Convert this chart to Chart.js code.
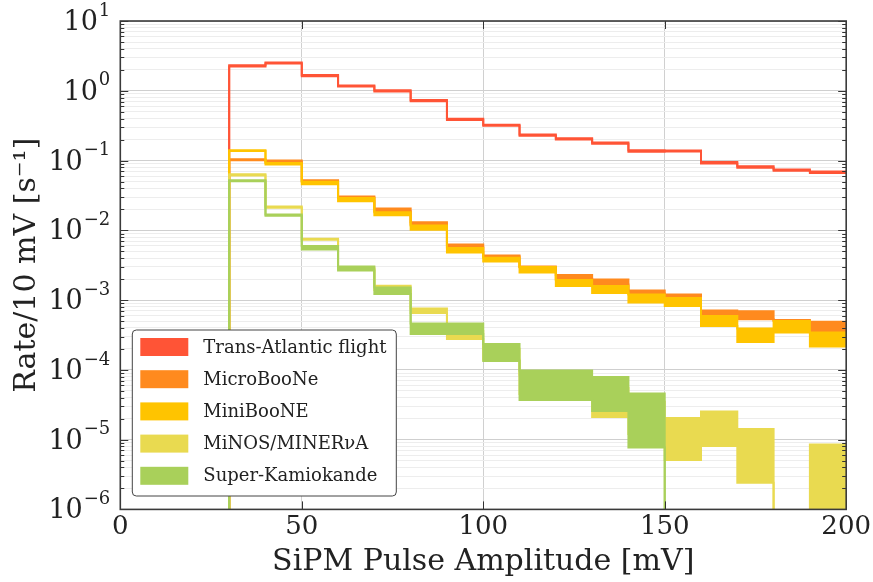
<!DOCTYPE html>
<html>
<head>
<meta charset="utf-8">
<script src="https://cdn.jsdelivr.net/npm/chart.js@4.4.1/dist/chart.umd.min.js"></script>
<style>
  html, body { margin: 0; padding: 0; background: #fff; }
  #wrap { width: 873px; height: 582px; position: relative; }
</style>
</head>
<body>
<div id="wrap"><canvas id="rateChart"></canvas></div>
<script>
// bin edges in mV (17 bins of 10 mV)
const BIN_EDGES = [30, 40, 50, 60, 70, 80, 90, 100, 110, 120, 130, 140, 150, 160, 170, 180, 190, 200];

const X_TICKS = [0, 50, 100, 150, 200];
const Y_DECADES = [-6, -5, -4, -3, -2, -1, 0, 1];

const SERIES_NAMES = ['Trans-Atlantic flight', 'MicroBooNe', 'MiniBooNE', 'MiNOS/MINERνA', 'Super-Kamiokande'];
const SERIES_COLORS = ['#ff5436', '#ff8a1e', '#ffc400', '#e9da50', '#a9d05a'];

// band edges per bin, rate per 10 mV [1/s]; 0 = nothing in that bin
const FLIGHT_UPPER = [2.32, 2.55, 1.68, 1.19, 1.02, 0.735, 0.398, 0.326, 0.237, 0.208, 0.182, 0.140, 0.139, 0.095, 0.083, 0.0745, 0.0695];
const FLIGHT_LOWER = [2.22, 2.45, 1.62, 1.15, 0.98, 0.705, 0.382, 0.314, 0.227, 0.200, 0.174, 0.134, 0.135, 0.091, 0.079, 0.0715, 0.0665];

const MICRO_UPPER = [0.104, 0.100, 0.0524, 0.0304, 0.0206, 0.0131, 0.00624, 0.00434, 0.00302, 0.00228, 0.00197, 0.00137, 0.00120, 0.00071, 0.00069, 0.00052, 0.00049];
const MICRO_LOWER = [0.101, 0.096, 0.0505, 0.0296, 0.0188, 0.0121, 0.00574, 0.00420, 0.00295, 0.00203, 0.00167, 0.00124, 0.00112, 0.00062, 0.00053, 0.00050, 0.00036];

const MINI_UPPER = [0.140, 0.092, 0.0495, 0.0290, 0.0182, 0.0117, 0.00556, 0.00406, 0.00297, 0.00194, 0.00159, 0.00120, 0.00107, 0.00059, 0.00039, 0.00050, 0.000342];
const MINI_LOWER = [0.137, 0.0874, 0.0459, 0.0262, 0.0165, 0.0102, 0.00480, 0.00356, 0.00248, 0.00159, 0.00126, 0.00092, 0.00082, 0.000424, 0.00025, 0.000342, 0.000216];

const MINOS_UPPER = [0.0635, 0.0219, 0.0076, 0.0029, 0.00160, 0.000755, 0.00036, 0.00020, 0.000085, 0.000070, 0.000055, 0.000035, 0.0000204, 0.0000253, 0.0000142, 0, 0.0000085];
const MINOS_LOWER = [0.0612, 0.0211, 0.0073, 0.0028, 0.00140, 0.000652, 0.000276, 0.00014, 0.000045, 0.000042, 0.0000211, 0.000012, 0.0000051, 0.0000081, 0.0000024, 0, 0];

const SK_UPPER = [0.0520, 0.0168, 0.00594, 0.00302, 0.00151, 0.00046, 0.00046, 0.000234, 0.0000977, 0.0000977, 0.0000788, 0.0000457, 0, 0, 0, 0, 0];
const SK_LOWER = [0.0503, 0.0162, 0.0053, 0.00265, 0.00122, 0.000326, 0.000326, 0.000134, 0.0000369, 0.0000369, 0.0000257, 0.0000077, 0, 0, 0, 0, 0];

const SERIES = [
  { upper: FLIGHT_UPPER, lower: FLIGHT_LOWER },
  { upper: MICRO_UPPER, lower: MICRO_LOWER },
  { upper: MINI_UPPER, lower: MINI_LOWER },
  { upper: MINOS_UPPER, lower: MINOS_LOWER },
  { upper: SK_UPPER, lower: SK_LOWER },
];

const SERIF = "'DejaVu Serif', 'Liberation Serif', serif";
const OFF_SCALE = 1e-9; // stands in for an empty bin on the log axis

function stepPoints(values) {
  const pts = [{ x: BIN_EDGES[0], y: OFF_SCALE }];
  values.forEach((v, i) => {
    pts.push({ x: BIN_EDGES[i], y: v > 0 ? v : OFF_SCALE });
  });
  const last = values[values.length - 1];
  pts.push({ x: BIN_EDGES[BIN_EDGES.length - 1], y: last > 0 ? last : OFF_SCALE });
  return pts;
}

const datasets = [];
SERIES.forEach((s, i) => {
  const color = SERIES_COLORS[i];
  const common = {
    borderColor: color,
    backgroundColor: color,
    borderWidth: 2,
    stepped: 'before',
    pointRadius: 0,
    tension: 0,
    order: SERIES.length - i,
  };
  datasets.push({ ...common, label: SERIES_NAMES[i], data: stepPoints(s.upper), fill: false });
  datasets.push({ ...common, label: '', data: stepPoints(s.lower), fill: '-1' });
});

// frame, inward ticks, 10^n tick labels and the boxed legend inside the plot
const framePlugin = {
  id: 'framePlugin',
  afterDraw(chart) {
    const { ctx, chartArea: a, scales } = chart;
    ctx.save();
    ctx.strokeStyle = '#333';
    ctx.lineWidth = 1;
    scales.y.ticks.forEach(t => {
      const py = Math.round(scales.y.getPixelForValue(t.value)) + 0.5;
      const len = t.major ? 8 : 4;
      ctx.beginPath();
      ctx.moveTo(a.left, py); ctx.lineTo(a.left + len, py);
      ctx.moveTo(a.right, py); ctx.lineTo(a.right - len, py);
      ctx.stroke();
    });
    scales.x.ticks.forEach(t => {
      const px = Math.round(scales.x.getPixelForValue(t.value)) + 0.5;
      ctx.beginPath();
      ctx.moveTo(px, a.bottom); ctx.lineTo(px, a.bottom - 8);
      ctx.moveTo(px, a.top); ctx.lineTo(px, a.top + 8);
      ctx.stroke();
    });
    ctx.lineWidth = 1.6;
    ctx.strokeStyle = '#3a3a3a';
    ctx.strokeRect(a.left, a.top, a.right - a.left, a.bottom - a.top);

    // y tick labels as 10 with raised exponent
    ctx.fillStyle = '#222';
    ctx.textBaseline = 'middle';
    scales.y.ticks.filter(t => t.major).forEach(t => {
      const py = scales.y.getPixelForValue(t.value);
      const exp = t.exp < 0 ? '\u2212' + Math.abs(t.exp) : String(t.exp);
      ctx.font = '27px ' + SERIF;
      const wBase = ctx.measureText('10').width;
      ctx.font = '18px ' + SERIF;
      const wExp = ctx.measureText(exp).width;
      const x0 = a.left - 10 - wBase - wExp - 1;
      ctx.font = '27px ' + SERIF;
      ctx.fillText('10', x0, py + 2);
      ctx.font = '18px ' + SERIF;
      ctx.fillText(exp, x0 + wBase + 1, py - 10);
    });

    // legend
    const items = chart.data.datasets.filter(d => d.label);
    const bx = a.left + 12, by = a.top + 309, bw = 264, bh = 166;
    ctx.beginPath();
    ctx.roundRect(bx, by, bw, bh, 4);
    ctx.fillStyle = '#fff';
    ctx.fill();
    ctx.lineWidth = 1;
    ctx.strokeStyle = '#444';
    ctx.stroke();
    ctx.font = '18px ' + SERIF;
    ctx.textBaseline = 'middle';
    items.forEach((d, i) => {
      const cy = by + 17 + i * 32.2;
      ctx.fillStyle = d.backgroundColor;
      ctx.fillRect(bx + 8, cy - 9, 48, 18);
      ctx.fillStyle = '#222';
      ctx.fillText(d.label, bx + 71, cy + 1);
    });
    ctx.restore();
  },
};

new Chart(document.getElementById('rateChart'), {
  type: 'line',
  data: { datasets },
  plugins: [framePlugin],
  options: {
    responsive: true,
    maintainAspectRatio: false,
    animation: false,
    layout: { padding: { top: 21, right: 25, left: 0, bottom: 0 } },
    plugins: {
      legend: { display: false },
      tooltip: { enabled: false },
    },
    scales: {
      x: {
        type: 'linear',
        min: 0,
        max: 200,
        afterBuildTicks: (scale) => { scale.ticks = X_TICKS.map(v => ({ value: v })); },
        afterFit: (scale) => { scale.height = 72.6; },
        grid: { color: '#d0d0d0', lineWidth: 1, drawTicks: false },
        border: { display: false },
        ticks: { font: { family: SERIF, size: 26 }, color: '#222', padding: 2, maxRotation: 0 },
        title: {
          display: true,
          text: 'SiPM Pulse Amplitude [mV]',
          font: { family: SERIF, size: 30 },
          color: '#222',
          padding: { top: 0, bottom: 2 },
        },
      },
      y: {
        type: 'logarithmic',
        min: 1e-6,
        max: 10,
        afterBuildTicks: (scale) => {
          const ticks = [];
          Y_DECADES.forEach(e => {
            ticks.push({ value: Math.pow(10, e), major: true, exp: e });
            if (e < Y_DECADES[Y_DECADES.length - 1]) {
              for (let m = 2; m <= 9; m++) ticks.push({ value: m * Math.pow(10, e), major: false });
            }
          });
          scale.ticks = ticks;
        },
        afterFit: (scale) => { scale.width = 120.3; },
        grid: {
          color: (c) => (c.tick && c.tick.major ? '#cfcfcf' : '#ededed'),
          lineWidth: 1,
          drawTicks: false,
        },
        border: { display: false },
        ticks: {
          autoSkip: false,
          callback: () => '',
        },
        title: {
          display: true,
          text: 'Rate/10 mV [s⁻¹]',
          font: { family: SERIF, size: 30 },
          color: '#222',
          padding: { top: 9, bottom: 0 },
        },
      },
    },
  },
});
</script>
</body>
</html>
